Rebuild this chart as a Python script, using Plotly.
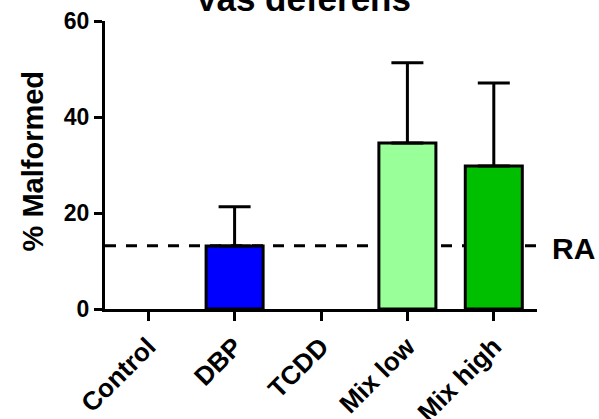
import plotly.graph_objects as go

# Group labels, mean % malformed and SEM (upper only)
groups = ["Control", "DBP", "TCDD", "Mix low", "Mix high"]
pct_malformed = [0, 13.1, 0, 34.6, 29.8]
sem_upper = [0, 8.2, 0, 16.7, 17.3]
bar_colors = ["#ffffff", "#0000ff", "#ffffff", "#99ff99", "#00bf00"]

# Response-addition prediction drawn as a dashed reference line
ra_value = 13.2
y_ticks = [0, 20, 40, 60]

FONT = "Arial, Liberation Sans, Helvetica, sans-serif"

# Groups at zero keep their category slot but draw no bar or error bar
bar_heights = [v if v > 0 else None for v in pct_malformed]
err_plus = [e if v > 0 else None for v, e in zip(pct_malformed, sem_upper)]
err_minus = [0 if v > 0 else None for v in pct_malformed]

fig = go.Figure()
fig.add_trace(go.Bar(
    x=groups,
    y=bar_heights,
    width=0.66,
    marker=dict(color=bar_colors, line=dict(color="black", width=3)),
    error_y=dict(
        type="data",
        symmetric=False,
        array=err_plus,
        arrayminus=err_minus,
        color="black",
        thickness=3,
        width=16,
    ),
    showlegend=False,
))

# Dashed RA line across the plotting area, beneath the bars
fig.add_shape(
    type="line", xref="paper", yref="y",
    x0=0, x1=1, y0=ra_value, y1=ra_value,
    line=dict(color="black", width=3, dash="11px,10px"),
    layer="below",
)
fig.add_annotation(
    text="<b>RA</b>", xref="paper", yref="y",
    x=1.03, y=ra_value, xanchor="left", yanchor="middle", yshift=-3,
    showarrow=False, font=dict(family=FONT, size=30, color="black"),
)

# Chart title and y-axis label
fig.add_annotation(
    text="<b>Vas deferens</b>", xref="paper", yref="paper",
    x=0.458, y=1.0, xanchor="center", yanchor="bottom", yshift=1,
    showarrow=False, font=dict(family=FONT, size=35, color="black"),
)
fig.add_annotation(
    text="<b>% Malformed</b>", xref="paper", yref="paper",
    x=-0.167, y=0.512, xanchor="center", yanchor="middle",
    textangle=-90, showarrow=False,
    font=dict(family=FONT, size=29, color="black"),
)

fig.update_layout(
    width=599, height=419,
    margin=dict(l=105, r=62, t=21, b=110, autoexpand=False),
    paper_bgcolor="white", plot_bgcolor="white",
    font=dict(family=FONT, color="black"),
)
fig.update_xaxes(
    range=[-0.5, 4.5], automargin=False,
    showline=True, linecolor="black", linewidth=3,
    ticks="outside", ticklen=9, tickwidth=3, tickcolor="black",
    tickangle=-45, tickfont=dict(family=FONT, size=26, color="black", weight="bold"),
    showgrid=False, zeroline=False,
)
fig.update_yaxes(
    range=[0, 60], tickvals=y_ticks, automargin=False,
    showline=True, linecolor="black", linewidth=3,
    ticks="outside", ticklen=8, tickwidth=3, tickcolor="black",
    tickfont=dict(family=FONT, size=23, color="black", weight="bold"),
    showgrid=False, zeroline=False,
)

fig.write_html("out.html")
